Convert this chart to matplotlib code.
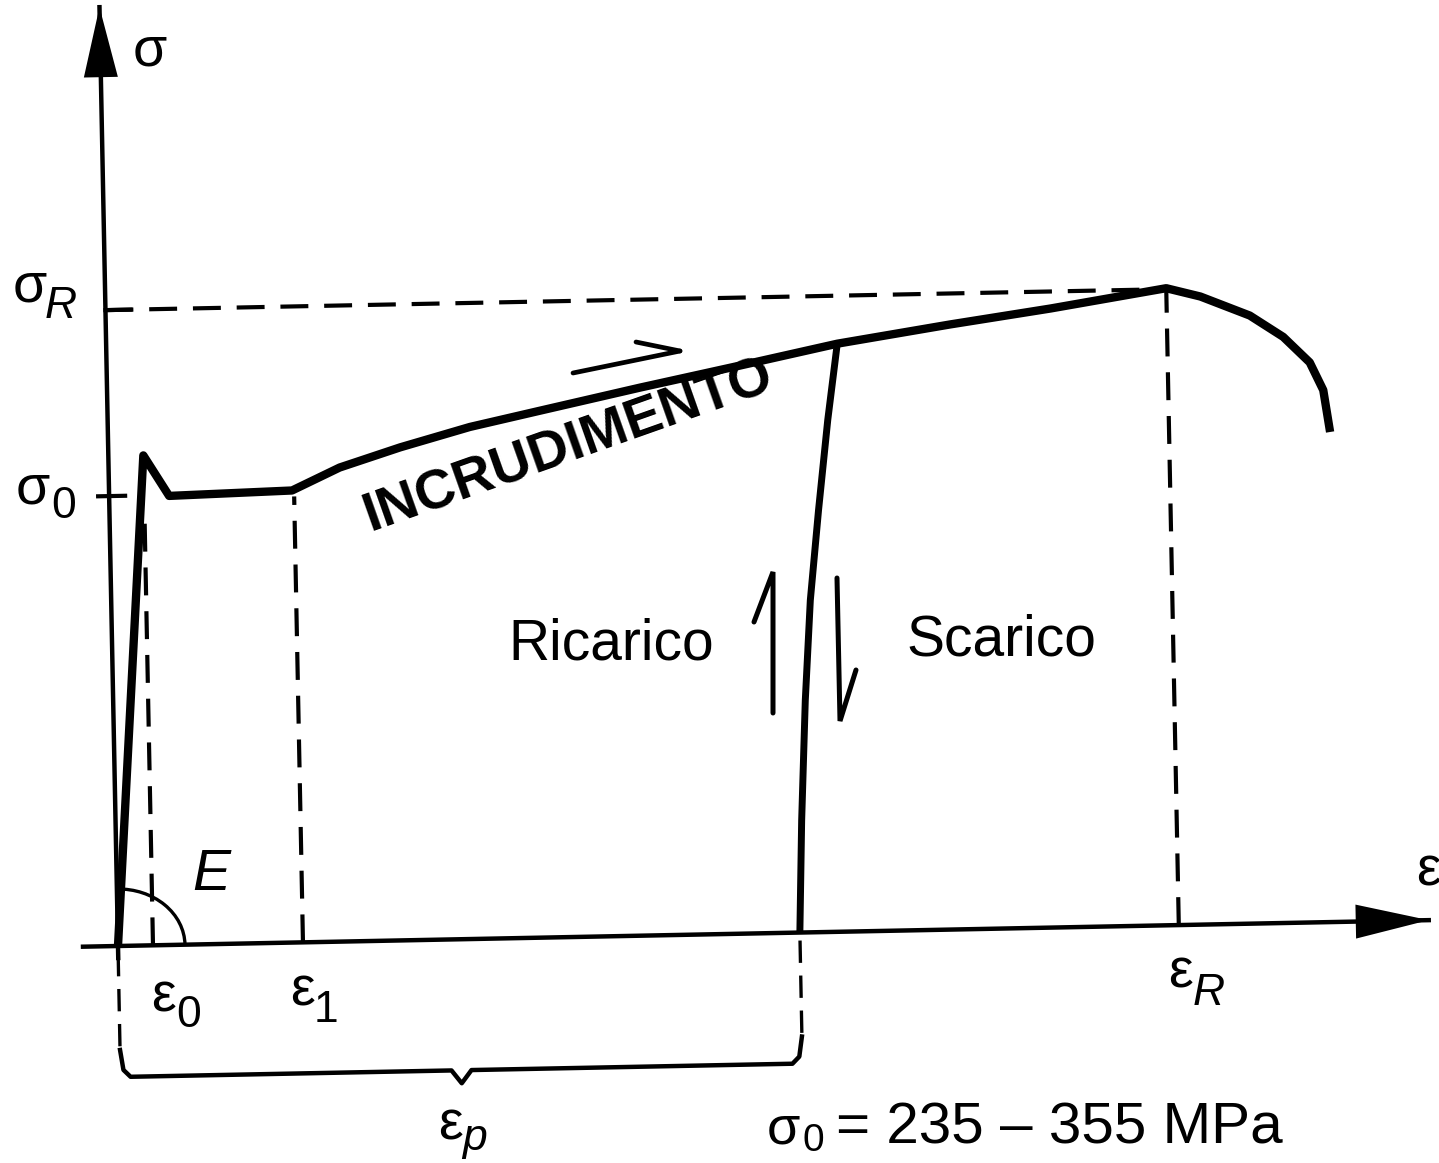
import numpy as np
import matplotlib
matplotlib.use("Agg")
import matplotlib.pyplot as plt
from matplotlib.transforms import Affine2D
from matplotlib.patches import Arc

# ---------------- data (strain ε, stress σ in drawing units) ----------------
eps_curve = [0, 35, 60, 183, 231, 292, 362, 433, 533, 633, 731, 844, 945, 1061,
             1095, 1144, 1177, 1203, 1216, 1222]
sig_curve = [0, 490, 449, 452, 474, 493, 512, 527, 548, 568, 588, 605, 619, 637,
             628, 608, 586, 560, 532, 490]
eps_unload = [731, 720, 709, 699, 692, 686, 682]
sig_unload = [588, 512, 422, 332, 232, 112, 0]

eps0, eps1, eps_p, eps_R = 35, 185, 682, 1061
sig0, sig_R = 450, 636

# axes extents / brace
x_axis = (-35, 1311)
y_axis = (-12, 939)
brace_eps = [0, 3, 10, 331, 341, 351, 672, 679, 682]
brace_sig = [-104, -124, -131, -131, -144, -131, -131, -124, -104]

SKEW = 1.13  # scan rotation in degrees
W, H = 1439, 1163
OX, OY = 118, 946  # origin location in picture pixels

fig = plt.figure(figsize=(W / 100, H / 100), dpi=100)
ax = fig.add_axes([0, 0, 1, 1])
ax.set_xlim(-OX, W - OX)
ax.set_ylim(OY - H, OY)
ax.axis("off")
rot = Affine2D().rotate_deg(SKEW) + ax.transData

K = "black"
FONT = "Liberation Sans"


def dashed(xs, ys, lw=3.0):
    ax.plot(xs, ys, transform=rot, color=K, lw=lw, linestyle=(0, (6.7, 3.8)),
            solid_capstyle="butt", dash_capstyle="butt")


# axes
ax.plot(x_axis, [0, 0], transform=rot, color=K, lw=3.2)
ax.plot([0, 0], y_axis, transform=rot, color=K, lw=3.2)
hl, hw = 73, 17
ax.fill([x_axis[1], x_axis[1] - hl, x_axis[1] - hl], [0, hw, -hw], transform=rot, color=K, lw=0)
ax.fill([0, hw, -hw], [y_axis[1], y_axis[1] - hl + 3, y_axis[1] - hl + 3], transform=rot, color=K, lw=0)

# reference dashed lines
dashed([0, eps_R], [sig_R, sig_R])
ax.plot([0, 25], [sig_R, sig_R], transform=rot, color=K, lw=3)
ax.plot([-11, 16], [sig0, sig0], transform=rot, color=K, lw=3)
dashed([eps0, eps0], [0, 430])
dashed([eps1, eps1], [0, 446])
dashed([eps_R, eps_R], [0, sig_R])
dashed([0, 0], [-8, -112], lw=2.4)
dashed([eps_p, eps_p], [-8, -112], lw=2.4)

# brace
ax.plot(brace_eps, brace_sig, transform=rot, color=K, lw=3.2, solid_joinstyle="round")

# stress-strain curve and unloading branch
ax.plot(eps_curve, sig_curve, transform=rot, color=K, lw=6, solid_joinstyle="round",
        solid_capstyle="butt")
ax.plot(eps_unload, sig_unload, transform=rot, color=K, lw=5, solid_joinstyle="round",
        solid_capstyle="butt")

# E angle arc
arc = Arc((0, 0), 134, 114, theta1=0, theta2=90, color=K, lw=2.4, transform=rot)
ax.add_patch(arc)


def P(x, y):
    return x - OX, OY - y


def txt(x, y, s, size, style="normal", **kw):
    ax.text(*P(x, y), s, fontsize=size, family=FONT, style=style,
            ha="left", va="baseline", color=K, **kw)


MAIN, SUB = 40, 32
txt(133, 66, "σ", MAIN)
txt(13, 301, "σ", MAIN); txt(45, 318, "R", SUB, style="italic")
txt(16, 504, "σ", MAIN); txt(51, 518, "0", SUB)
txt(151, 1011, "ε", MAIN); txt(176, 1027, "0", SUB)
txt(290, 1006, "ε", MAIN); txt(314, 1022, "1", SUB)
txt(1168, 988, "ε", MAIN); txt(1193, 1005, "R", SUB, style="italic")
txt(438, 1140, "ε", MAIN); txt(462, 1150, "p", SUB, style="italic")
txt(1416, 886, "ε", MAIN)
txt(192, 890, "E", 41, style="italic")
txt(508, 660, "Ricarico", 41)
txt(906, 655, "Scarico", 41)
# bottom note (kept fully inside the picture)
txt(767, 1144, "σ", 39); txt(802, 1151, "0", 28)
txt(836, 1144, "= 235 – 355 MPa", 42)

# handwritten note with arrow
ax.text(*P(370, 532), "INCRUDIMENTO", fontsize=40, family=FONT, weight="bold",
        rotation=19.5, rotation_mode="anchor", ha="left", va="baseline", color=K)
note_x = [573, 680]
note_y = [373, 351]
ax.plot(*zip(*[P(x, y) for x, y in zip(note_x, note_y)]), color=K, lw=3.4, solid_capstyle="round")
ax.plot(*zip(*[P(x, y) for x, y in [(636, 342), (680, 351)]]), color=K, lw=3.4, solid_capstyle="round")

# loading / unloading arrows
for pts in ([(773, 713), (773, 572), (754, 622)], [(837, 578), (840, 721), (856, 670)]):
    ax.plot(*zip(*[P(x, y) for x, y in pts]), color=K, lw=3.6,
            solid_capstyle="round", solid_joinstyle="miter")

fig.savefig("out.png", dpi=100, facecolor="white")
